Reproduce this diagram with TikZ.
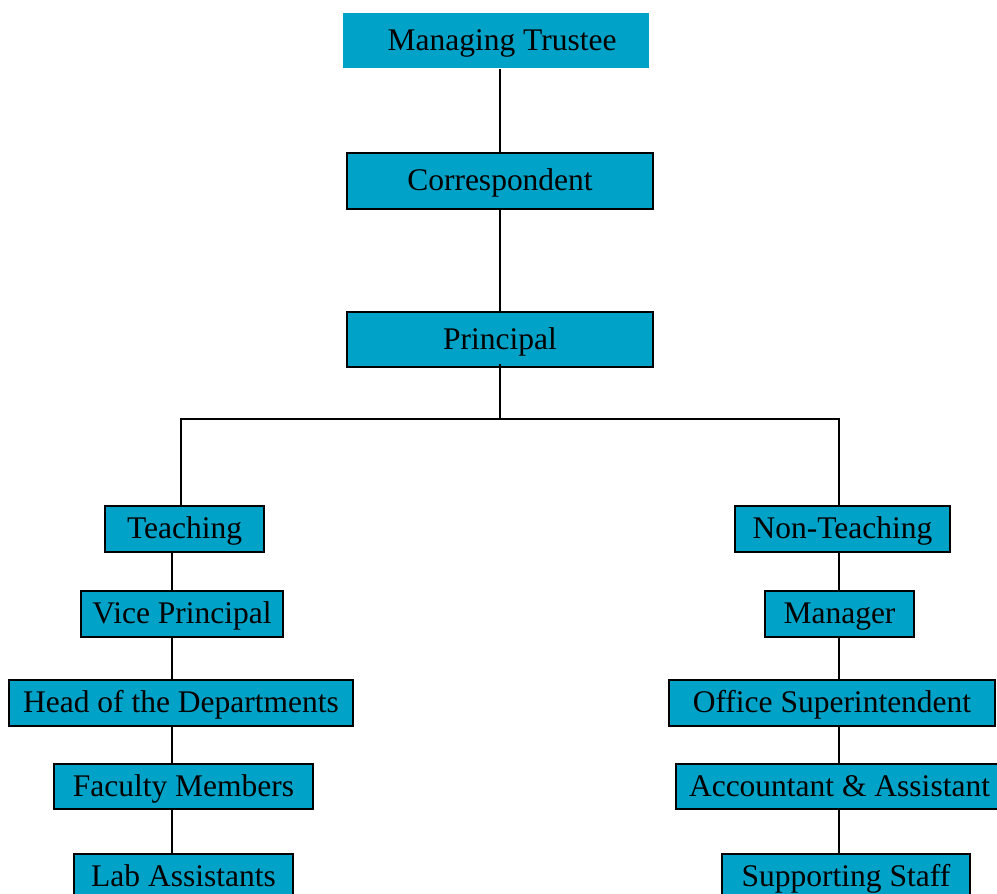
\documentclass[tikz,border=0pt]{standalone}
\usepackage{fontspec}
\setmainfont{Liberation Serif}
\definecolor{boxfill}{RGB}{0,162,199}
\begin{document}
\begin{tikzpicture}[x=1pt,y=-1pt,
  box/.style={rectangle, fill=boxfill, draw=black, line width=1.8pt, inner sep=0pt,
    text height=25pt, text depth=6pt,
    font=\fontsize{31.5}{36}\selectfont, text=black},
  link/.style={draw=black, line width=1.8pt}]
\useasboundingbox (0,0) rectangle (997,894);
\clip (0,0) rectangle (997,894);
% top
\node[box, draw=none, minimum width=306pt, minimum height=55pt] (mt) at (496,40.5) {\hspace{12pt}Managing Trustee};
\node[box, minimum width=306pt, minimum height=56pt] (cor) at (500,181) {Correspondent};
\node[box, minimum width=306pt, minimum height=55pt] (pri) at (500,339.5) {Principal};
% left
\node[box, minimum width=159pt, minimum height=46pt] (teach) at (184.5,529) {Teaching};
\node[box, minimum width=202pt, minimum height=46pt] (vp) at (182,614) {Vice Principal};
\node[box, minimum width=344pt, minimum height=46pt] (hod) at (181,703) {Head of the Departments};
\node[box, minimum width=259pt, minimum height=45pt] (fm) at (183.5,786.5) {Faculty Members};
\node[box, minimum width=219pt, minimum height=46pt] (lab) at (183.5,877) {Lab Assistants};
% right
\node[box, minimum width=215pt, minimum height=46pt] (nt) at (842.5,529) {Non-Teaching};
\node[box, minimum width=149pt, minimum height=46pt] (mgr) at (839.5,614) {Manager};
\node[box, minimum width=326pt, minimum height=46pt] (os) at (832,703) {Office Superintendent\hspace{6pt}};
\node[box, minimum width=327pt, minimum height=45pt] (acc) at (839.5,786.5) {Accountant \& Assistant};
\node[box, minimum width=248pt, minimum height=46pt] (ss) at (846,877) {Supporting Staff};
% helper coordinates
\coordinate (junc) at (500,419);
\coordinate (lbr) at (181,419);
\coordinate (rbr) at (839,419);
\coordinate (lx) at (172,0);
\coordinate (rx) at (839,0);
% connectors
\draw[link] (mt.south -| cor.north) -- (cor.north);
\draw[link] (cor.south) -- (pri.north);
\draw[link] ([yshift=4pt]pri.south) -- (junc);
\draw[link] ([yshift=-2pt]lbr) -- (lbr) -- (rbr) -- (rbr |- nt.north);
\draw[link] (lbr) -- (lbr |- teach.north);
\draw[link] (teach.south -| lx) -- (vp.north -| lx);
\draw[link] (vp.south -| lx) -- (hod.north -| lx);
\draw[link] (hod.south -| lx) -- (fm.north -| lx);
\draw[link] (fm.south -| lx) -- (lab.north -| lx);
\draw[link] (nt.south -| rx) -- (mgr.north -| rx);
\draw[link] (mgr.south -| rx) -- (os.north -| rx);
\draw[link] (os.south -| rx) -- (acc.north -| rx);
\draw[link] (acc.south -| rx) -- (ss.north -| rx);
\end{tikzpicture}
\end{document}
